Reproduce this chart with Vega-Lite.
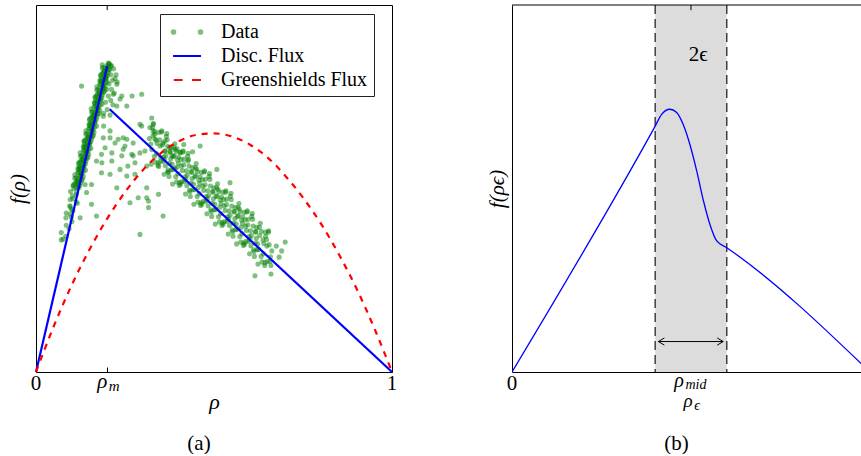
{
  "$schema": "https://vega.github.io/schema/vega-lite/v6.json",
  "background": "white",
  "padding": {"left": 6, "top": 4, "right": 0, "bottom": 0},
  "config": {
    "font": "Liberation Serif",
    "view": {"stroke": "black", "strokeWidth": 1},
    "axis": {"grid": false, "labels": false, "domainColor": "black", "tickColor": "black", "titleColor": "black", "titleFontWeight": "normal", "titleFont": "Liberation Serif"},
    "title": {"font": "Liberation Serif", "fontWeight": "normal", "fontSize": 21, "color": "black"},
    "text": {"color": "black", "font": "Liberation Serif"}
  },
  "datasets": {
    "traffic": [
      {"r":0.071,"f":0.36},{"r":0.084,"f":0.37},{"r":0.071,"f":0.38},{"r":0.093,"f":0.39},{"r":0.085,"f":0.40},{"r":0.101,"f":0.41},{"r":0.084,"f":0.42},{"r":0.099,"f":0.422},{"r":0.096,"f":0.43},{"r":0.085,"f":0.433},{"r":0.104,"f":0.44},{"r":0.0995,"f":0.443},{"r":0.096,"f":0.45},{"r":0.095,"f":0.453},{"r":0.116,"f":0.46},{"r":0.113,"f":0.463},{"r":0.096,"f":0.47},{"r":0.104,"f":0.472},{"r":0.102,"f":0.48},{"r":0.113,"f":0.483},{"r":0.114,"f":0.49},{"r":0.097,"f":0.492},
      {"r":0.107,"f":0.500},{"r":0.120,"f":0.502},{"r":0.118,"f":0.505},{"r":0.104,"f":0.507},{"r":0.105,"f":0.510},{"r":0.118,"f":0.512},{"r":0.125,"f":0.515},{"r":0.112,"f":0.517},{"r":0.116,"f":0.520},{"r":0.128,"f":0.522},{"r":0.130,"f":0.525},{"r":0.118,"f":0.527},{"r":0.113,"f":0.530},{"r":0.126,"f":0.532},{"r":0.123,"f":0.535},{"r":0.109,"f":0.537},{"r":0.129,"f":0.540},{"r":0.126,"f":0.542},{"r":0.120,"f":0.545},{"r":0.133,"f":0.547},{"r":0.139,"f":0.550},{"r":0.119,"f":0.552},{"r":0.118,"f":0.555},{"r":0.127,"f":0.557},{"r":0.122,"f":0.560},{"r":0.135,"f":0.562},{"r":0.134,"f":0.565},{"r":0.120,"f":0.567},{"r":0.120,"f":0.570},{"r":0.133,"f":0.572},{"r":0.140,"f":0.575},{"r":0.127,"f":0.577},{"r":0.131,"f":0.580},{"r":0.143,"f":0.582},{"r":0.146,"f":0.585},{"r":0.134,"f":0.587},{"r":0.128,"f":0.590},{"r":0.141,"f":0.592},{"r":0.138,"f":0.595},{"r":0.124,"f":0.597},{"r":0.145,"f":0.600},{"r":0.142,"f":0.602},{"r":0.136,"f":0.605},{"r":0.149,"f":0.607},{"r":0.154,"f":0.610},{"r":0.134,"f":0.612},{"r":0.133,"f":0.615},{"r":0.142,"f":0.617},{"r":0.138,"f":0.620},{"r":0.151,"f":0.622},{"r":0.149,"f":0.625},{"r":0.135,"f":0.627},{"r":0.135,"f":0.630},{"r":0.148,"f":0.632},{"r":0.156,"f":0.635},{"r":0.143,"f":0.637},{"r":0.147,"f":0.640},{"r":0.159,"f":0.642},{"r":0.161,"f":0.645},{"r":0.149,"f":0.647},{"r":0.143,"f":0.650},{"r":0.156,"f":0.652},{"r":0.154,"f":0.655},{"r":0.140,"f":0.657},{"r":0.160,"f":0.660},{"r":0.157,"f":0.662},{"r":0.151,"f":0.665},{"r":0.164,"f":0.667},{"r":0.170,"f":0.670},{"r":0.150,"f":0.672},{"r":0.149,"f":0.675},{"r":0.158,"f":0.677},{"r":0.153,"f":0.680},{"r":0.166,"f":0.682},{"r":0.164,"f":0.685},{"r":0.150,"f":0.687},{"r":0.151,"f":0.690},{"r":0.164,"f":0.692},{"r":0.171,"f":0.695},{"r":0.158,"f":0.697},{"r":0.162,"f":0.700},{"r":0.174,"f":0.702},{"r":0.177,"f":0.705},{"r":0.165,"f":0.707},{"r":0.159,"f":0.710},{"r":0.172,"f":0.712},{"r":0.169,"f":0.715},{"r":0.155,"f":0.717},{"r":0.175,"f":0.720},{"r":0.172,"f":0.722},{"r":0.167,"f":0.725},{"r":0.180,"f":0.727},{"r":0.185,"f":0.730},{"r":0.165,"f":0.732},{"r":0.164,"f":0.735},{"r":0.173,"f":0.737},{"r":0.169,"f":0.740},{"r":0.182,"f":0.742},{"r":0.180,"f":0.745},{"r":0.166,"f":0.747},{"r":0.166,"f":0.750},{"r":0.179,"f":0.752},{"r":0.186,"f":0.755},{"r":0.173,"f":0.757},{"r":0.178,"f":0.760},{"r":0.190,"f":0.762},{"r":0.192,"f":0.765},{"r":0.180,"f":0.767},{"r":0.174,"f":0.770},{"r":0.187,"f":0.772},{"r":0.185,"f":0.775},{"r":0.171,"f":0.777},{"r":0.191,"f":0.780},{"r":0.188,"f":0.782},{"r":0.182,"f":0.785},{"r":0.195,"f":0.787},{"r":0.200,"f":0.790},{"r":0.180,"f":0.792},{"r":0.180,"f":0.795},{"r":0.189,"f":0.797},{"r":0.184,"f":0.800},{"r":0.197,"f":0.802},{"r":0.195,"f":0.805},{"r":0.181,"f":0.807},{"r":0.182,"f":0.810},{"r":0.195,"f":0.812},{"r":0.202,"f":0.815},{"r":0.189,"f":0.817},{"r":0.193,"f":0.820},{"r":0.205,"f":0.822},{"r":0.207,"f":0.825},{"r":0.195,"f":0.827},{"r":0.190,"f":0.830},{"r":0.203,"f":0.832},{"r":0.200,"f":0.835},{"r":0.186,"f":0.837},{"r":0.206,"f":0.840},{"r":0.203,"f":0.842},
      {"r":0.114,"f":0.503},{"r":0.123,"f":0.508},{"r":0.109,"f":0.513},{"r":0.116,"f":0.518},{"r":0.123,"f":0.523},{"r":0.109,"f":0.528},{"r":0.133,"f":0.533},{"r":0.126,"f":0.538},{"r":0.117,"f":0.543},{"r":0.126,"f":0.548},{"r":0.123,"f":0.553},{"r":0.134,"f":0.558},{"r":0.129,"f":0.563},{"r":0.139,"f":0.568},{"r":0.124,"f":0.573},{"r":0.131,"f":0.578},{"r":0.138,"f":0.583},{"r":0.125,"f":0.588},{"r":0.148,"f":0.593},{"r":0.141,"f":0.598},{"r":0.133,"f":0.603},{"r":0.142,"f":0.608},{"r":0.138,"f":0.613},{"r":0.149,"f":0.618},{"r":0.145,"f":0.623},{"r":0.154,"f":0.628},{"r":0.139,"f":0.633},{"r":0.147,"f":0.638},{"r":0.154,"f":0.643},{"r":0.140,"f":0.648},{"r":0.163,"f":0.653},{"r":0.157,"f":0.658},{"r":0.148,"f":0.663},{"r":0.157,"f":0.668},{"r":0.154,"f":0.673},{"r":0.165,"f":0.678},{"r":0.160,"f":0.683},{"r":0.169,"f":0.688},{"r":0.155,"f":0.693},{"r":0.162,"f":0.698},{"r":0.169,"f":0.703},{"r":0.156,"f":0.708},{"r":0.179,"f":0.713},{"r":0.172,"f":0.718},{"r":0.163,"f":0.723},{"r":0.173,"f":0.728},{"r":0.169,"f":0.733},{"r":0.180,"f":0.738},{"r":0.176,"f":0.743},{"r":0.185,"f":0.748},{"r":0.170,"f":0.753},{"r":0.177,"f":0.758},{"r":0.185,"f":0.763},{"r":0.171,"f":0.768},{"r":0.194,"f":0.773},{"r":0.188,"f":0.778},{"r":0.179,"f":0.783},{"r":0.188,"f":0.788},{"r":0.184,"f":0.793},{"r":0.196,"f":0.798},{"r":0.191,"f":0.803},{"r":0.200,"f":0.808},{"r":0.186,"f":0.813},{"r":0.193,"f":0.818},{"r":0.200,"f":0.823},{"r":0.186,"f":0.828},{"r":0.210,"f":0.833},
      {"r":0.205,"f":0.84},{"r":0.212,"f":0.835},{"r":0.218,"f":0.826},{"r":0.21,"f":0.81},{"r":0.215,"f":0.795},{"r":0.222,"f":0.80},{"r":0.205,"f":0.785},{"r":0.198,"f":0.77},{"r":0.212,"f":0.77},{"r":0.220,"f":0.76},{"r":0.203,"f":0.752},{"r":0.21,"f":0.74},{"r":0.195,"f":0.735},{"r":0.216,"f":0.728},{"r":0.2,"f":0.715},{"r":0.208,"f":0.7},{"r":0.19,"f":0.705},{"r":0.225,"f":0.81},{"r":0.228,"f":0.79},{"r":0.196,"f":0.80},
      {"r":0.270,"f":0.752},{"r":0.297,"f":0.757},{"r":0.241,"f":0.752},{"r":0.217,"f":0.757},{"r":0.236,"f":0.744},{"r":0.227,"f":0.725},{"r":0.189,"f":0.697},{"r":0.325,"f":0.692},{"r":0.292,"f":0.675},{"r":0.19,"f":0.67},{"r":0.208,"f":0.657},{"r":0.208,"f":0.638},{"r":0.222,"f":0.624},{"r":0.245,"f":0.638},{"r":0.25,"f":0.616},{"r":0.273,"f":0.624},{"r":0.297,"f":0.670},{"r":0.329,"f":0.657},{"r":0.334,"f":0.635},{"r":0.292,"f":0.597},{"r":0.189,"f":0.638},{"r":0.213,"f":0.597},{"r":0.241,"f":0.589},{"r":0.273,"f":0.589},{"r":0.185,"f":0.57},{"r":0.258,"f":0.561},{"r":0.278,"f":0.57},{"r":0.306,"f":0.602},{"r":0.357,"f":0.624},{"r":0.427,"f":0.575},{"r":0.362,"f":0.602},{"r":0.396,"f":0.608},{"r":0.382,"f":0.589},{"r":0.329,"f":0.675},{"r":0.334,"f":0.648},
      {"r":0.128,"f":0.779},{"r":0.227,"f":0.784},{"r":0.255,"f":0.725},{"r":0.362,"f":0.629},{"r":0.311,"f":0.561},{"r":0.278,"f":0.539},{"r":0.255,"f":0.534},{"r":0.227,"f":0.502},{"r":0.208,"f":0.539},{"r":0.184,"f":0.543},{"r":0.156,"f":0.511},{"r":0.138,"f":0.511},{"r":0.156,"f":0.457},{"r":0.124,"f":0.42},{"r":0.170,"f":0.425},{"r":0.287,"f":0.475},{"r":0.311,"f":0.475},{"r":0.292,"f":0.375},{"r":0.316,"f":0.448},{"r":0.264,"f":0.461},{"r":0.17,"f":0.575},{"r":0.142,"f":0.489},{"r":0.184,"f":0.593},{"r":0.194,"f":0.611},{"r":0.231,"f":0.634},{"r":0.255,"f":0.634},{"r":0.245,"f":0.607},{"r":0.269,"f":0.593},{"r":0.213,"f":0.575},{"r":0.236,"f":0.552},{"r":0.461,"f":0.616},{"r":0.508,"f":0.552},{"r":0.545,"f":0.516},{"r":0.311,"f":0.502},{"r":0.344,"f":0.484},{"r":0.316,"f":0.466},{"r":0.357,"f":0.425},
      {"r":0.375,"f":0.612},{"r":0.405,"f":0.598},{"r":0.415,"f":0.62},{"r":0.44,"f":0.6},{"r":0.35,"f":0.585},{"r":0.39,"f":0.555},{"r":0.37,"f":0.545},{"r":0.345,"f":0.56},
      {"r":0.615,"f":0.262},{"r":0.70,"f":0.354},{"r":0.683,"f":0.313},{"r":0.076,"f":0.362},{"r":0.675,"f":0.343},{"r":0.66,"f":0.29},{"r":0.645,"f":0.37},{"r":0.69,"f":0.33},
      {"r":0.320,"f":0.666},{"r":0.3225,"f":0.621},{"r":0.3185,"f":0.636},{"r":0.325,"f":0.606},{"r":0.3275,"f":0.666},{"r":0.3235,"f":0.566},{"r":0.330,"f":0.677},{"r":0.3325,"f":0.587},{"r":0.3285,"f":0.644},{"r":0.335,"f":0.572},{"r":0.3375,"f":0.632},{"r":0.3335,"f":0.655},{"r":0.340,"f":0.623},{"r":0.3425,"f":0.563},{"r":0.3385,"f":0.595},{"r":0.345,"f":0.653},{"r":0.3475,"f":0.633},{"r":0.3435,"f":0.570},{"r":0.350,"f":0.574},{"r":0.3525,"f":0.654},{"r":0.3485,"f":0.616},{"r":0.355,"f":0.619},{"r":0.3575,"f":0.574},{"r":0.3535,"f":0.657},{"r":0.360,"f":0.539},{"r":0.3625,"f":0.602},{"r":0.3585,"f":0.586},{"r":0.365,"f":0.590},{"r":0.3675,"f":0.650},{"r":0.3635,"f":0.562},{"r":0.370,"f":0.615},{"r":0.3725,"f":0.545},{"r":0.3685,"f":0.633},{"r":0.375,"f":0.569},{"r":0.3775,"f":0.599},{"r":0.3735,"f":0.533},
      {"r":0.380,"f":0.611},{"r":0.3825,"f":0.566},{"r":0.3785,"f":0.581},{"r":0.385,"f":0.552},{"r":0.3875,"f":0.612},{"r":0.3835,"f":0.512},{"r":0.390,"f":0.622},{"r":0.3925,"f":0.532},{"r":0.3885,"f":0.589},{"r":0.395,"f":0.518},{"r":0.3975,"f":0.578},{"r":0.3935,"f":0.601},{"r":0.400,"f":0.568},{"r":0.4025,"f":0.508},{"r":0.3985,"f":0.540},{"r":0.405,"f":0.599},{"r":0.4075,"f":0.579},{"r":0.4035,"f":0.516},{"r":0.410,"f":0.519},{"r":0.4125,"f":0.599},{"r":0.4085,"f":0.561},{"r":0.415,"f":0.565},{"r":0.4175,"f":0.520},{"r":0.4135,"f":0.603},{"r":0.420,"f":0.485},{"r":0.4225,"f":0.548},{"r":0.4185,"f":0.532},{"r":0.425,"f":0.536},{"r":0.4275,"f":0.596},{"r":0.4235,"f":0.508},{"r":0.430,"f":0.561},{"r":0.4325,"f":0.491},{"r":0.4285,"f":0.579},{"r":0.435,"f":0.514},{"r":0.4375,"f":0.544},{"r":0.4335,"f":0.478},
      {"r":0.440,"f":0.557},{"r":0.4425,"f":0.512},{"r":0.4385,"f":0.527},{"r":0.445,"f":0.497},{"r":0.4475,"f":0.557},{"r":0.4435,"f":0.457},{"r":0.450,"f":0.568},{"r":0.4525,"f":0.478},{"r":0.4485,"f":0.535},{"r":0.455,"f":0.463},{"r":0.4575,"f":0.523},{"r":0.4535,"f":0.546},{"r":0.460,"f":0.514},{"r":0.4625,"f":0.454},{"r":0.4585,"f":0.486},{"r":0.465,"f":0.544},{"r":0.4675,"f":0.524},{"r":0.4635,"f":0.461},{"r":0.470,"f":0.465},{"r":0.4725,"f":0.545},{"r":0.4685,"f":0.507},{"r":0.475,"f":0.510},{"r":0.4775,"f":0.465},{"r":0.4735,"f":0.548},{"r":0.480,"f":0.431},{"r":0.4825,"f":0.494},{"r":0.4785,"f":0.478},{"r":0.485,"f":0.481},{"r":0.4875,"f":0.541},{"r":0.4835,"f":0.453},{"r":0.490,"f":0.507},{"r":0.4925,"f":0.437},{"r":0.4885,"f":0.525},{"r":0.495,"f":0.460},{"r":0.4975,"f":0.490},{"r":0.4935,"f":0.424},
      {"r":0.500,"f":0.502},{"r":0.5025,"f":0.457},{"r":0.4985,"f":0.472},{"r":0.505,"f":0.443},{"r":0.5075,"f":0.503},{"r":0.5035,"f":0.403},{"r":0.510,"f":0.513},{"r":0.5125,"f":0.423},{"r":0.5085,"f":0.480},{"r":0.515,"f":0.409},{"r":0.5175,"f":0.469},{"r":0.5135,"f":0.492},{"r":0.520,"f":0.459},{"r":0.5225,"f":0.399},{"r":0.5185,"f":0.431},{"r":0.525,"f":0.490},{"r":0.5275,"f":0.470},{"r":0.5235,"f":0.407},{"r":0.530,"f":0.410},{"r":0.5325,"f":0.490},{"r":0.5285,"f":0.452},{"r":0.535,"f":0.456},{"r":0.5375,"f":0.411},{"r":0.5335,"f":0.494},{"r":0.540,"f":0.376},{"r":0.5425,"f":0.439},{"r":0.5385,"f":0.423},{"r":0.545,"f":0.427},{"r":0.5475,"f":0.487},{"r":0.5435,"f":0.399},{"r":0.550,"f":0.452},{"r":0.5525,"f":0.382},{"r":0.5485,"f":0.470},{"r":0.555,"f":0.406},{"r":0.5575,"f":0.436},{"r":0.5535,"f":0.370},
      {"r":0.560,"f":0.448},{"r":0.5625,"f":0.403},{"r":0.5585,"f":0.418},{"r":0.565,"f":0.389},{"r":0.5675,"f":0.449},{"r":0.5635,"f":0.349},{"r":0.570,"f":0.459},{"r":0.5725,"f":0.369},{"r":0.5685,"f":0.426},{"r":0.575,"f":0.354},{"r":0.5775,"f":0.414},{"r":0.5735,"f":0.437},{"r":0.580,"f":0.405},{"r":0.5825,"f":0.345},{"r":0.5785,"f":0.377},{"r":0.585,"f":0.435},{"r":0.5875,"f":0.415},{"r":0.5835,"f":0.352},{"r":0.590,"f":0.356},{"r":0.5925,"f":0.436},{"r":0.5885,"f":0.398},{"r":0.595,"f":0.401},{"r":0.5975,"f":0.356},{"r":0.5935,"f":0.439},{"r":0.600,"f":0.322},{"r":0.6025,"f":0.385},{"r":0.5985,"f":0.369},{"r":0.605,"f":0.372},{"r":0.6075,"f":0.432},{"r":0.6035,"f":0.344},{"r":0.610,"f":0.398},{"r":0.6125,"f":0.328},{"r":0.6085,"f":0.416},{"r":0.615,"f":0.351},{"r":0.6175,"f":0.381},{"r":0.6135,"f":0.315},
      {"r":0.620,"f":0.394},{"r":0.6225,"f":0.349},{"r":0.6185,"f":0.364},{"r":0.625,"f":0.334},{"r":0.6275,"f":0.394},{"r":0.6235,"f":0.294},{"r":0.630,"f":0.405},{"r":0.6325,"f":0.315},{"r":0.6285,"f":0.372},{"r":0.635,"f":0.300},{"r":0.6375,"f":0.360},{"r":0.6335,"f":0.383},{"r":0.640,"f":0.350},{"r":0.6425,"f":0.290},{"r":0.6385,"f":0.322},{"r":0.645,"f":0.381},{"r":0.6475,"f":0.361},{"r":0.6435,"f":0.298},{"r":0.650,"f":0.301},{"r":0.6525,"f":0.381},{"r":0.6485,"f":0.343},{"r":0.655,"f":0.347},{"r":0.6575,"f":0.302},{"r":0.6535,"f":0.385},{"r":0.660,"f":0.267},{"r":0.6625,"f":0.330},{"r":0.6585,"f":0.314},
      {"r":0.361,"f":0.579},{"r":0.366,"f":0.642},{"r":0.371,"f":0.550},{"r":0.376,"f":0.601},{"r":0.381,"f":0.551},{"r":0.386,"f":0.587},{"r":0.391,"f":0.607},{"r":0.396,"f":0.558},{"r":0.401,"f":0.586},{"r":0.406,"f":0.512},{"r":0.411,"f":0.549},{"r":0.416,"f":0.580},{"r":0.421,"f":0.525},{"r":0.426,"f":0.588},{"r":0.431,"f":0.496},{"r":0.436,"f":0.546},{"r":0.441,"f":0.497},{"r":0.446,"f":0.532},{"r":0.451,"f":0.553},{"r":0.456,"f":0.503},{"r":0.461,"f":0.532},{"r":0.466,"f":0.457},{"r":0.471,"f":0.495},{"r":0.476,"f":0.525},{"r":0.481,"f":0.471},{"r":0.486,"f":0.533},{"r":0.491,"f":0.442},{"r":0.496,"f":0.492},{"r":0.501,"f":0.442},{"r":0.506,"f":0.478},{"r":0.511,"f":0.498},{"r":0.516,"f":0.449},{"r":0.521,"f":0.477},{"r":0.526,"f":0.403},{"r":0.531,"f":0.440},{"r":0.536,"f":0.471},{"r":0.541,"f":0.416},{"r":0.546,"f":0.479},{"r":0.551,"f":0.387},{"r":0.556,"f":0.438},{"r":0.561,"f":0.388},{"r":0.566,"f":0.424},{"r":0.571,"f":0.444},{"r":0.576,"f":0.394},{"r":0.581,"f":0.423},{"r":0.586,"f":0.348},{"r":0.591,"f":0.386},{"r":0.596,"f":0.416},{"r":0.601,"f":0.362},{"r":0.606,"f":0.424},{"r":0.611,"f":0.333},{"r":0.616,"f":0.383},{"r":0.621,"f":0.334}
    ]
  },
  "spacing": 88,
  "hconcat": [
    {
      "width": 356,
      "height": 367,
      "title": {"text": "(a)", "orient": "bottom", "offset": 20, "dx": -15},
      "layer": [
        {
          "data": {"name": "traffic"},
          "mark": {"type": "circle", "size": 26, "opacity": 0.5},
          "encoding": {
            "x": {"field": "r", "type": "quantitative", "scale": {"domain": [0, 1], "nice": false},
                  "axis": {"orient": "bottom", "values": [0, 0.2, 1], "tickSize": -5, "domain": false, "title": "ρ", "titleFontSize": 22, "titleFontStyle": "italic", "titlePadding": 19}},
            "y": {"field": "f", "type": "quantitative", "scale": {"domain": [0, 1], "nice": false},
                  "axis": {"ticks": false, "domain": false, "title": "f(ρ)", "titleFontSize": 21, "titleFontStyle": "italic", "titlePadding": 8}},
            "color": {"datum": "Data", "type": "nominal",
                      "scale": {"domain": ["Data", "Disc. Flux", "Greenshields Flux"], "range": ["#008000", "#0000ff", "#ff0000"]},
                      "legend": {
                        "orient": "none", "legendX": 124, "legendY": 9, "title": null,
                        "padding": 6, "rowPadding": 2, "symbolOffset": 9, "labelOffset": 22,
                        "symbolSize": 484, "symbolStrokeWidth": 2,
                        "symbolType": {"expr": "datum.value === 'Data' ? 'M-1.391,0a0.164,0.164 0 1,0 0.328,0a0.164,0.164 0 1,0 -0.328,0M1.063,0a0.164,0.164 0 1,0 0.328,0a0.164,0.164 0 1,0 -0.328,0' : datum.value === 'Disc. Flux' ? 'M-1.27,0L1.27,0' : 'M-1.2,0L-0.4,0M0.45,0L1.27,0'"},
                        "symbolOpacity": {"expr": "datum.value === 'Data' ? 0.5 : 1"},
                        "symbolFillColor": {"expr": "datum.value === 'Data' ? '#008000' : 'transparent'"},
                        "symbolStrokeColor": {"expr": "datum.value === 'Data' ? '#008000' : datum.value === 'Disc. Flux' ? '#0000ff' : '#ff0000'"},
                        "labelFont": "Liberation Serif", "labelFontSize": 20, "labelColor": "black", "labelLimit": 300,
                        "strokeColor": "#222222", "fillColor": "white"
                      }}
          }
        },
        {
          "data": {"values": [{"seg": "free", "r": 0, "f": 0}, {"seg": "free", "r": 0.2, "f": 0.834}, {"seg": "congested", "r": 0.207, "f": 0.716}, {"seg": "congested", "r": 1, "f": 0}]},
          "mark": {"type": "line", "strokeWidth": 2.2},
          "encoding": {
            "x": {"field": "r", "type": "quantitative"},
            "y": {"field": "f", "type": "quantitative"},
            "detail": {"field": "seg"},
            "color": {"datum": "Disc. Flux", "type": "nominal"}
          }
        },
        {
          "data": {"values": [
            {"r": 0, "f": 0}, {"r": 0.05, "f": 0.125}, {"r": 0.1, "f": 0.236}, {"r": 0.15, "f": 0.333}, {"r": 0.2, "f": 0.418},
            {"r": 0.25, "f": 0.49}, {"r": 0.3, "f": 0.55}, {"r": 0.35, "f": 0.596}, {"r": 0.4, "f": 0.628}, {"r": 0.45, "f": 0.646},
            {"r": 0.5, "f": 0.65}, {"r": 0.55, "f": 0.642}, {"r": 0.6, "f": 0.62}, {"r": 0.65, "f": 0.585}, {"r": 0.7, "f": 0.535},
            {"r": 0.75, "f": 0.475}, {"r": 0.8, "f": 0.405}, {"r": 0.85, "f": 0.322}, {"r": 0.9, "f": 0.228}, {"r": 0.95, "f": 0.12}, {"r": 1, "f": 0}
          ]},
          "mark": {"type": "line", "strokeWidth": 2.2, "strokeDash": [6, 6], "interpolate": "monotone"},
          "encoding": {
            "x": {"field": "r", "type": "quantitative"},
            "y": {"field": "f", "type": "quantitative"},
            "color": {"datum": "Greenshields Flux", "type": "nominal"}
          }
        },
        {
          "data": {"values": [{"r": 0.2, "top": 1, "end": 0.986}]},
          "mark": {"type": "rule", "color": "black", "strokeWidth": 1},
          "encoding": {
            "x": {"field": "r", "type": "quantitative"},
            "y": {"field": "top", "type": "quantitative"},
            "y2": {"field": "end"}
          }
        },
        {
          "data": {"values": [{"r": 0, "t": "0"}, {"r": 1, "t": "1"}]},
          "mark": {"type": "text", "fontSize": 21, "dy": 12, "baseline": "middle", "color": "black"},
          "encoding": {
            "x": {"field": "r", "type": "quantitative"},
            "y": {"datum": 0, "type": "quantitative"},
            "text": {"field": "t"}
          }
        },
        {
          "data": {"values": [{"r": 0.2, "t": "ρ"}]},
          "mark": {"type": "text", "fontSize": 21, "fontStyle": "italic", "dx": -5, "dy": 16, "baseline": "alphabetic", "color": "black"},
          "encoding": {
            "x": {"field": "r", "type": "quantitative"},
            "y": {"datum": 0, "type": "quantitative"},
            "text": {"field": "t"}
          }
        },
        {
          "data": {"values": [{"r": 0.2, "t": "m"}]},
          "mark": {"type": "text", "fontSize": 15, "fontStyle": "italic", "dx": 7, "dy": 19, "baseline": "alphabetic", "color": "black"},
          "encoding": {
            "x": {"field": "r", "type": "quantitative"},
            "y": {"datum": 0, "type": "quantitative"},
            "text": {"field": "t"}
          }
        }
      ]
    },
    {
      "width": 349,
      "height": 367,
      "view": {"stroke": null},
      "title": {"text": "(b)", "orient": "bottom", "offset": 20, "dx": -10},
      "layer": [
        {
          "data": {"values": [{"lo": 0.4, "hi": 0.6}]},
          "mark": {"type": "rect", "color": "#dcdcdc"},
          "encoding": {
            "x": {"field": "lo", "type": "quantitative", "scale": {"domain": [0, 0.975], "nice": false},
                  "axis": {"orient": "bottom", "values": [0.5], "tickSize": -5, "domain": true, "title": null}},
            "x2": {"field": "hi"}
          }
        },
        {
          "data": {"values": [{"r": 0.4}, {"r": 0.6}]},
          "mark": {"type": "rule", "strokeDash": [9, 5], "color": "#333333", "strokeWidth": 1.4},
          "encoding": {
            "x": {"field": "r", "type": "quantitative"}
          }
        },
        {
          "data": {"values": [
            {"r": 0, "f": 0}, {"r": 0.4, "f": 0.670}, {"r": 0.418, "f": 0.702}, {"r": 0.441, "f": 0.716}, {"r": 0.46, "f": 0.707},
            {"r": 0.478, "f": 0.675}, {"r": 0.497, "f": 0.620}, {"r": 0.516, "f": 0.548}, {"r": 0.535, "f": 0.466}, {"r": 0.553, "f": 0.402},
            {"r": 0.572, "f": 0.357}, {"r": 0.598, "f": 0.340}, {"r": 1, "f": 0}
          ]},
          "mark": {"type": "line", "color": "#0000ff", "strokeWidth": 1.3, "interpolate": "monotone", "clip": true},
          "encoding": {
            "x": {"field": "r", "type": "quantitative"},
            "y": {"field": "f", "type": "quantitative", "scale": {"domain": [0, 1], "nice": false},
                  "axis": {"ticks": false, "domain": true, "title": "f(ρϵ)", "titleFontSize": 21, "titleFontStyle": "italic", "titlePadding": 5}}
          }
        },
        {
          "data": {"values": [{"edge": 1}]},
          "mark": {"type": "rule", "color": "black", "strokeWidth": 1},
          "encoding": {
            "y": {"field": "edge", "type": "quantitative"}
          }
        },
        {
          "data": {"values": [{"r": 0.5, "top": 1, "end": 0.986}]},
          "mark": {"type": "rule", "color": "black", "strokeWidth": 1},
          "encoding": {
            "x": {"field": "r", "type": "quantitative"},
            "y": {"field": "top", "type": "quantitative"},
            "y2": {"field": "end"}
          }
        },
        {
          "data": {"values": [{"a": 0.409, "b": 0.59, "f": 0.083}]},
          "mark": {"type": "rule", "color": "black", "strokeWidth": 1},
          "encoding": {
            "x": {"field": "a", "type": "quantitative"},
            "x2": {"field": "b"},
            "y": {"field": "f", "type": "quantitative"}
          }
        },
        {
          "data": {"values": [{"r": 0.409, "f": 0.083}]},
          "mark": {"type": "point", "shape": "M1.5,-0.9L0,0L1.5,0.9", "size": 64, "filled": false, "color": "black", "strokeWidth": 1, "opacity": 1},
          "encoding": {
            "x": {"field": "r", "type": "quantitative"},
            "y": {"field": "f", "type": "quantitative"}
          }
        },
        {
          "data": {"values": [{"r": 0.59, "f": 0.083}]},
          "mark": {"type": "point", "shape": "M-1.5,-0.9L0,0L-1.5,0.9", "size": 64, "filled": false, "color": "black", "strokeWidth": 1, "opacity": 1},
          "encoding": {
            "x": {"field": "r", "type": "quantitative"},
            "y": {"field": "f", "type": "quantitative"}
          }
        },
        {
          "data": {"values": [{"r": 0.52, "f": 0.865, "t": "2ϵ"}]},
          "mark": {"type": "text", "fontSize": 21, "color": "black"},
          "encoding": {
            "x": {"field": "r", "type": "quantitative"},
            "y": {"field": "f", "type": "quantitative"},
            "text": {"field": "t"}
          }
        },
        {
          "data": {"values": [{"r": 0, "t": "0"}]},
          "mark": {"type": "text", "fontSize": 21, "dy": 12, "baseline": "middle", "color": "black"},
          "encoding": {
            "x": {"field": "r", "type": "quantitative"},
            "y": {"datum": 0, "type": "quantitative"},
            "text": {"field": "t"}
          }
        },
        {
          "data": {"values": [{"r": 0.5, "t": "ρ"}]},
          "mark": {"type": "text", "fontSize": 20, "fontStyle": "italic", "dx": -12, "dy": 15, "baseline": "alphabetic", "color": "black"},
          "encoding": {
            "x": {"field": "r", "type": "quantitative"},
            "y": {"datum": 0, "type": "quantitative"},
            "text": {"field": "t"}
          }
        },
        {
          "data": {"values": [{"r": 0.5, "t": "mid"}]},
          "mark": {"type": "text", "fontSize": 14, "fontStyle": "italic", "dx": 5, "dy": 17, "baseline": "alphabetic", "color": "black"},
          "encoding": {
            "x": {"field": "r", "type": "quantitative"},
            "y": {"datum": 0, "type": "quantitative"},
            "text": {"field": "t"}
          }
        },
        {
          "data": {"values": [{"r": 0.5, "t": "ρ"}]},
          "mark": {"type": "text", "fontSize": 19, "fontStyle": "italic", "dx": -3, "dy": 35, "baseline": "alphabetic", "color": "black"},
          "encoding": {
            "x": {"field": "r", "type": "quantitative"},
            "y": {"datum": 0, "type": "quantitative"},
            "text": {"field": "t"}
          }
        },
        {
          "data": {"values": [{"r": 0.5, "t": "ϵ"}]},
          "mark": {"type": "text", "fontSize": 14, "fontStyle": "italic", "dx": 6, "dy": 38, "baseline": "alphabetic", "color": "black"},
          "encoding": {
            "x": {"field": "r", "type": "quantitative"},
            "y": {"datum": 0, "type": "quantitative"},
            "text": {"field": "t"}
          }
        }
      ]
    }
  ]
}
